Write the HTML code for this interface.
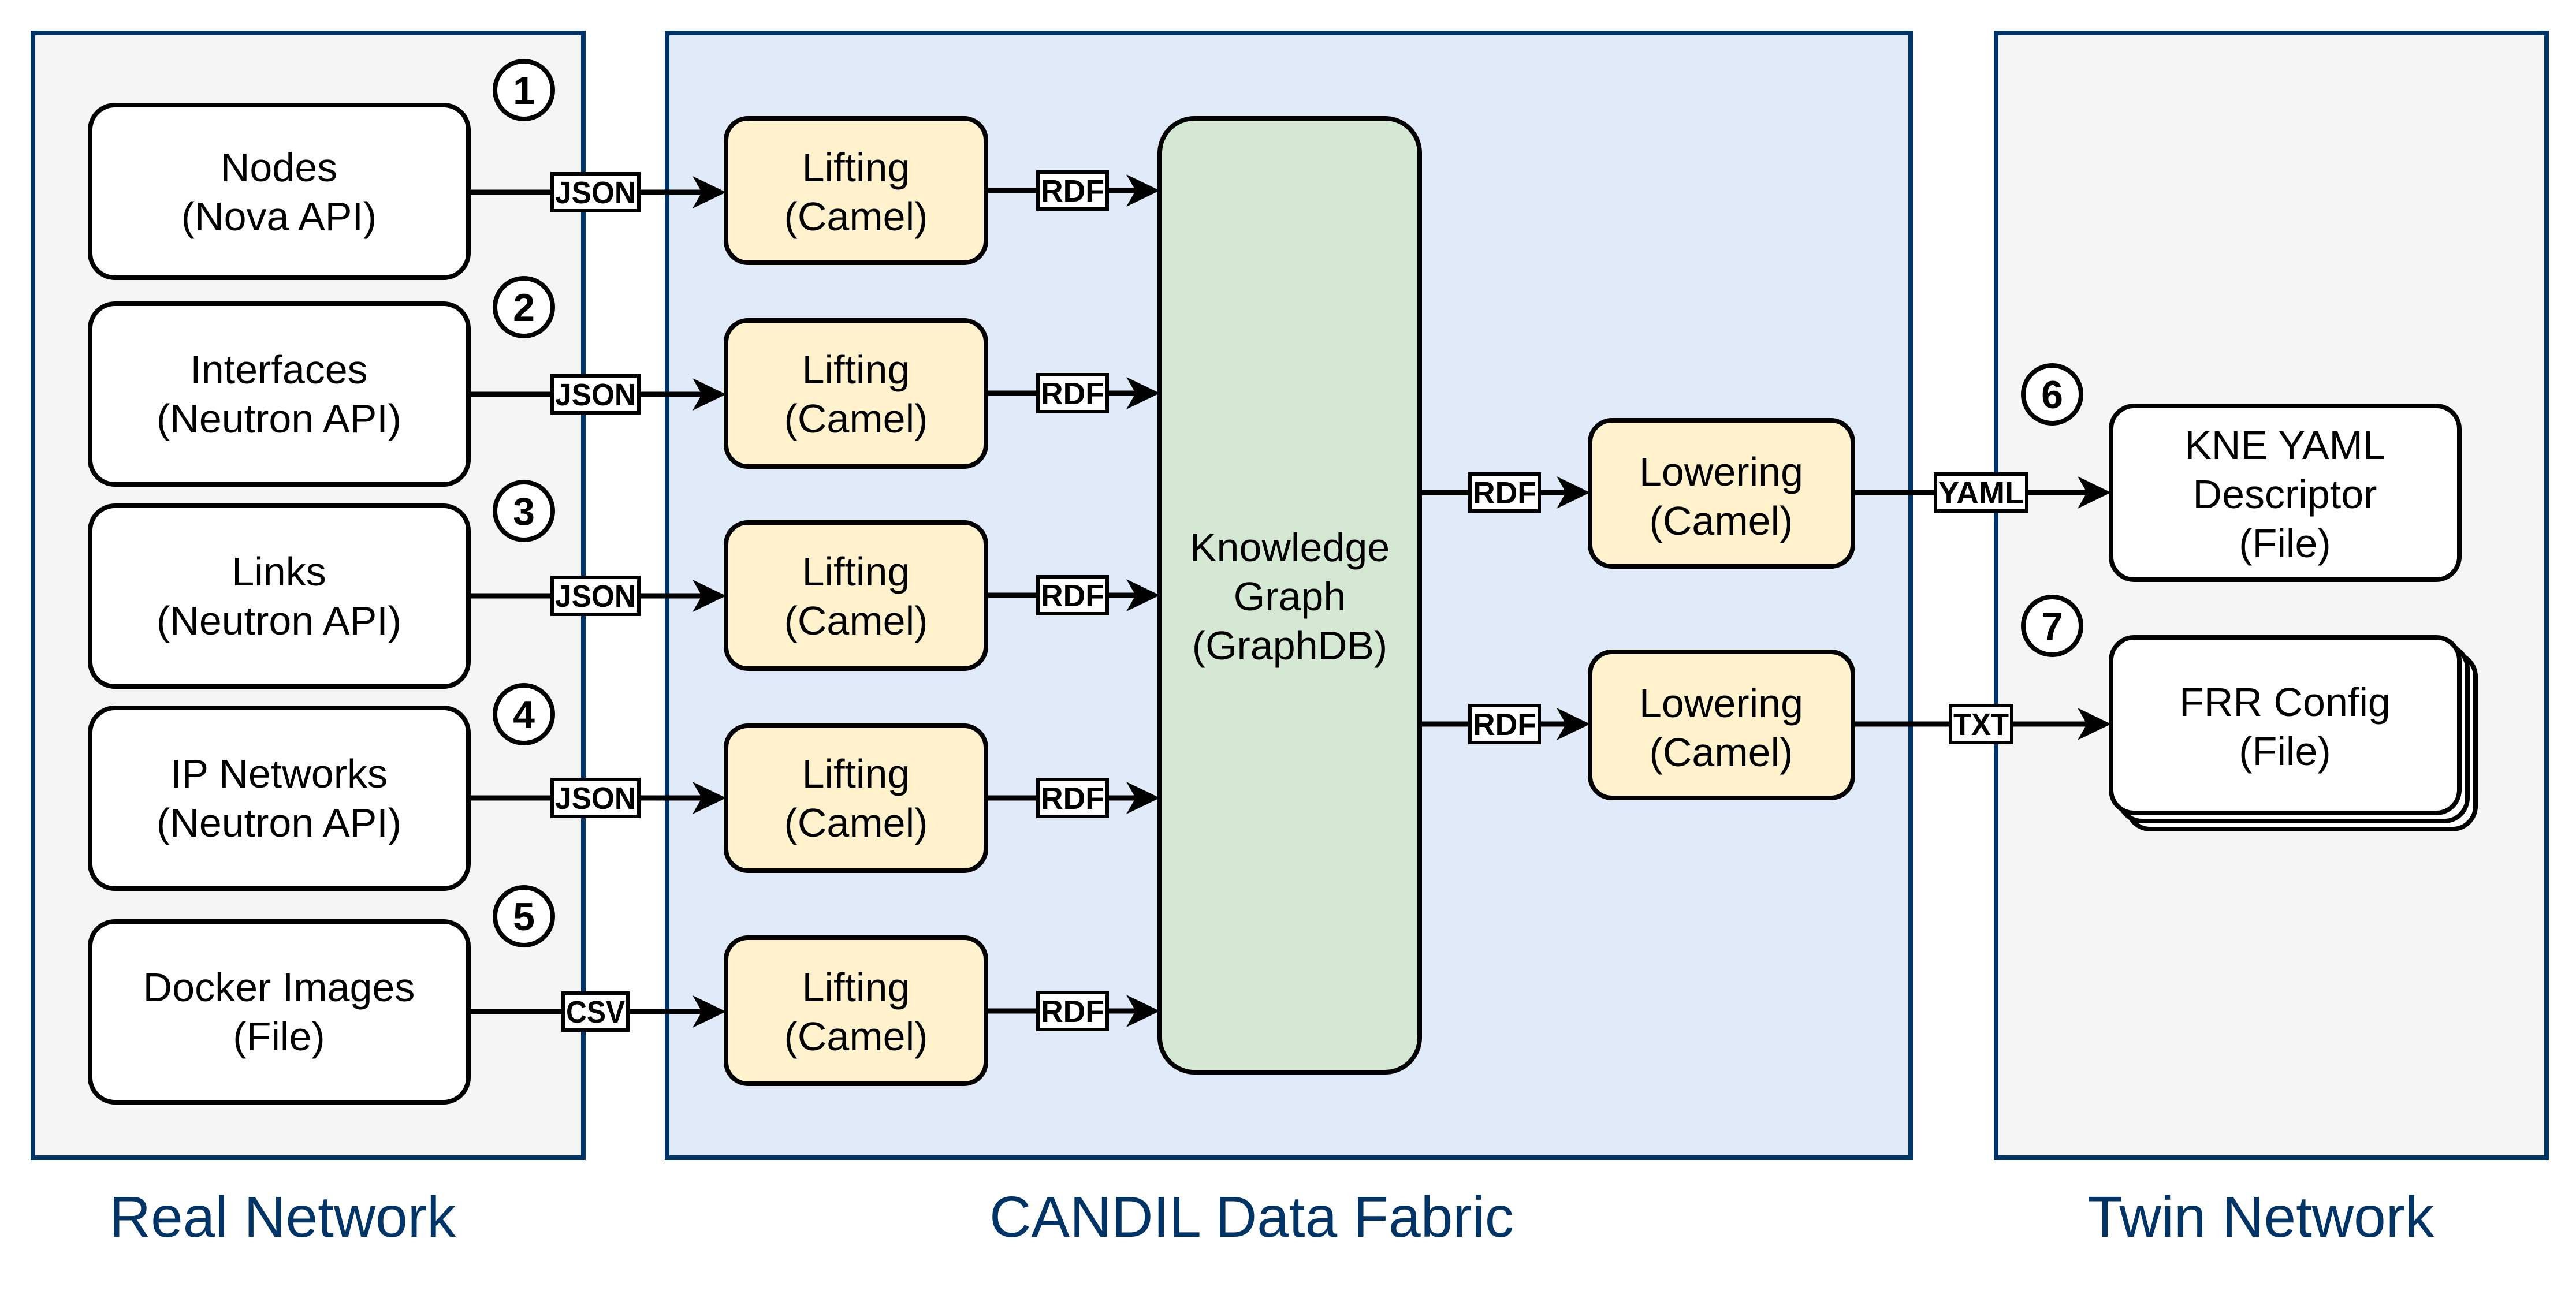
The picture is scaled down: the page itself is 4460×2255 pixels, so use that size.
<!DOCTYPE html>
<html><head><meta charset="utf-8"><style>
html,body{margin:0;padding:0;background:#fff;}
svg{display:block;}
text{font-family:"Liberation Sans",sans-serif;}
</style></head><body>
<svg width="4460" height="2255" viewBox="0 0 4460 2255" xmlns="http://www.w3.org/2000/svg">
<defs>
<g id="ah"><path d="M0,0 L-58,-28 L-42,0 L-58,28 Z" fill="#000"/></g>
</defs>
<rect x="57" y="57" width="953" height="1948" fill="#f5f5f5" stroke="#003366" stroke-width="8"/>
<rect x="1155" y="57" width="2153" height="1948" fill="#e0eaf8" stroke="#003366" stroke-width="8"/>
<rect x="3456" y="57" width="953" height="1948" fill="#f5f5f5" stroke="#003366" stroke-width="8"/>
<g font-size="100" fill="#003366" text-anchor="middle">
<text x="489" y="2142">Real Network</text>
<text x="2167" y="2142">CANDIL Data Fabric</text>
<text x="3914" y="2142">Twin Network</text>
</g>

<g stroke="#000" stroke-width="9" fill="none">
<line x1="811" y1="333" x2="1220" y2="333"/>
<line x1="811" y1="683" x2="1220" y2="683"/>
<line x1="811" y1="1032" x2="1220" y2="1032"/>
<line x1="811" y1="1382" x2="1220" y2="1382"/>
<line x1="811" y1="1752" x2="1220" y2="1752"/>
<line x1="1707" y1="330" x2="1970" y2="330"/>
<line x1="1707" y1="681" x2="1970" y2="681"/>
<line x1="1707" y1="1031" x2="1970" y2="1031"/>
<line x1="1707" y1="1382" x2="1970" y2="1382"/>
<line x1="1707" y1="1751" x2="1970" y2="1751"/>
<line x1="2458" y1="853" x2="2715" y2="853"/>
<line x1="2458" y1="1254" x2="2715" y2="1254"/>
<line x1="3208" y1="853" x2="3615" y2="853"/>
<line x1="3208" y1="1254" x2="3615" y2="1254"/>
</g>
<use href="#ah" x="1257" y="333"/><use href="#ah" x="1257" y="683"/><use href="#ah" x="1257" y="1032"/><use href="#ah" x="1257" y="1382"/><use href="#ah" x="1257" y="1752"/>
<use href="#ah" x="2008" y="330"/><use href="#ah" x="2008" y="681"/><use href="#ah" x="2008" y="1031"/><use href="#ah" x="2008" y="1382"/><use href="#ah" x="2008" y="1751"/>
<use href="#ah" x="2753" y="853"/><use href="#ah" x="2753" y="1254"/>
<use href="#ah" x="3655" y="853"/><use href="#ah" x="3655" y="1254"/>

<g fill="#fff" stroke="#000" stroke-width="8">
<rect x="156" y="182" width="655" height="299" rx="43"/>
<rect x="156" y="526" width="655" height="313" rx="43"/>
<rect x="156" y="876" width="655" height="313" rx="43"/>
<rect x="156" y="1226" width="655" height="313" rx="43"/>
<rect x="156" y="1596" width="655" height="313" rx="43"/>
</g>
<g fill="#fff2cc" stroke="#000" stroke-width="8">
<rect x="1257" y="205" width="450" height="250" rx="38"/>
<rect x="1257" y="555" width="450" height="253" rx="38"/>
<rect x="1257" y="905" width="450" height="253" rx="38"/>
<rect x="1257" y="1257" width="450" height="251" rx="38"/>
<rect x="1257" y="1624" width="450" height="253" rx="38"/>
<rect x="2753" y="728" width="455" height="253" rx="38"/>
<rect x="2753" y="1129" width="455" height="253" rx="38"/>
</g>
<rect x="2008" y="205" width="450" height="1652" rx="60" fill="#d5e8d4" stroke="#000" stroke-width="8"/>
<g fill="#fff" stroke="#000" stroke-width="8">
<rect x="3655" y="703" width="603" height="301" rx="40"/>
<rect x="3683" y="1132" width="603" height="304" rx="40"/>
<rect x="3669" y="1118" width="603" height="304" rx="40"/>
<rect x="3655" y="1104" width="603" height="304" rx="40"/>
</g>

<g fill="#fff" stroke="#000" stroke-width="8">
<circle cx="907" cy="156" r="50"/><circle cx="907" cy="532" r="50"/><circle cx="907" cy="885" r="50"/>
<circle cx="907" cy="1237" r="50"/><circle cx="907" cy="1587" r="50"/>
<circle cx="3553" cy="683" r="50"/><circle cx="3553" cy="1084" r="50"/>
</g>
<g font-size="68" font-weight="bold" text-anchor="middle">
<text x="907" y="180">1</text><text x="907" y="556">2</text><text x="907" y="909">3</text>
<text x="907" y="1261">4</text><text x="907" y="1611">5</text>
<text x="3553" y="707">6</text><text x="3553" y="1108">7</text>
</g>

<g fill="#fff" stroke="#000" stroke-width="6">
<rect x="956" y="301" width="150" height="64"/>
<rect x="956" y="651" width="150" height="64"/>
<rect x="956" y="1000" width="150" height="64"/>
<rect x="956" y="1350" width="150" height="64"/>
<rect x="975" y="1720" width="112" height="64"/>
<rect x="1797" y="298" width="120" height="64"/>
<rect x="1797" y="649" width="120" height="64"/>
<rect x="1797" y="999" width="120" height="64"/>
<rect x="1797" y="1350" width="120" height="64"/>
<rect x="1797" y="1719" width="120" height="64"/>
<rect x="2545" y="821" width="120" height="64"/>
<rect x="2545" y="1222" width="120" height="64"/>
<rect x="3351" y="821" width="158" height="64"/>
<rect x="3377" y="1222" width="106" height="64"/>
</g>
<g font-size="54" font-weight="bold" text-anchor="middle">
<text x="1031" y="352" textLength="140" lengthAdjust="spacingAndGlyphs">JSON</text>
<text x="1031" y="702" textLength="140" lengthAdjust="spacingAndGlyphs">JSON</text>
<text x="1031" y="1051" textLength="140" lengthAdjust="spacingAndGlyphs">JSON</text>
<text x="1031" y="1401" textLength="140" lengthAdjust="spacingAndGlyphs">JSON</text>
<text x="1031" y="1771" textLength="102" lengthAdjust="spacingAndGlyphs">CSV</text>
<text x="1857" y="349" textLength="110" lengthAdjust="spacingAndGlyphs">RDF</text>
<text x="1857" y="700" textLength="110" lengthAdjust="spacingAndGlyphs">RDF</text>
<text x="1857" y="1050" textLength="110" lengthAdjust="spacingAndGlyphs">RDF</text>
<text x="1857" y="1401" textLength="110" lengthAdjust="spacingAndGlyphs">RDF</text>
<text x="1857" y="1770" textLength="110" lengthAdjust="spacingAndGlyphs">RDF</text>
<text x="2605" y="872" textLength="110" lengthAdjust="spacingAndGlyphs">RDF</text>
<text x="2605" y="1273" textLength="110" lengthAdjust="spacingAndGlyphs">RDF</text>
<text x="3430" y="872" textLength="148" lengthAdjust="spacingAndGlyphs">YAML</text>
<text x="3430" y="1273" textLength="96" lengthAdjust="spacingAndGlyphs">TXT</text>
</g>

<g font-size="70" text-anchor="middle">
<text x="483" y="314">Nodes</text><text x="483" y="399">(Nova API)</text>
<text x="483" y="664">Interfaces</text><text x="483" y="749">(Neutron API)</text>
<text x="483" y="1014">Links</text><text x="483" y="1099">(Neutron API)</text>
<text x="483" y="1364">IP Networks</text><text x="483" y="1449">(Neutron API)</text>
<text x="483" y="1734">Docker Images</text><text x="483" y="1819">(File)</text>
<text x="1482" y="314">Lifting</text><text x="1482" y="399">(Camel)</text>
<text x="1482" y="664">Lifting</text><text x="1482" y="749">(Camel)</text>
<text x="1482" y="1014">Lifting</text><text x="1482" y="1099">(Camel)</text>
<text x="1482" y="1364">Lifting</text><text x="1482" y="1449">(Camel)</text>
<text x="1482" y="1734">Lifting</text><text x="1482" y="1819">(Camel)</text>
<text x="2233" y="972">Knowledge</text><text x="2233" y="1057">Graph</text><text x="2233" y="1142">(GraphDB)</text>
<text x="2980" y="841">Lowering</text><text x="2980" y="926">(Camel)</text>
<text x="2980" y="1242">Lowering</text><text x="2980" y="1327">(Camel)</text>
<text x="3956" y="795">KNE YAML</text><text x="3956" y="880">Descriptor</text><text x="3956" y="965">(File)</text>
<text x="3956" y="1240">FRR Config</text><text x="3956" y="1325">(File)</text>
</g>
</svg>
</body></html>
